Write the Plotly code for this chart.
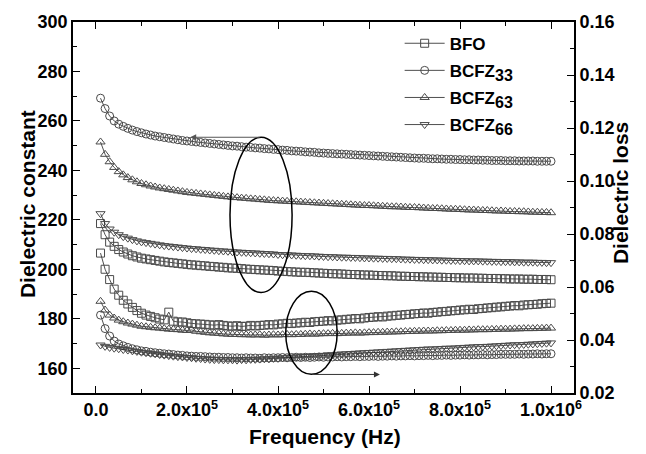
import plotly.graph_objects as go

# Frequency sweep: 10 kHz to 1 MHz in 10 kHz steps
freq_hz = [k * 1e4 for k in range(1, 101)]

# Dielectric constant (left axis)
eps_bfo = [
    218.5, 214.0, 211.0, 209.3, 208.0, 207.0, 206.2, 205.5, 205.0, 204.5,
    204.2, 203.9, 203.6, 203.3, 203.0, 202.8, 202.6, 202.4, 202.2, 202.0,
    201.8, 201.7, 201.5, 201.4, 201.2, 201.1, 200.9, 200.8, 200.6, 200.5,
    200.4, 200.3, 200.1, 200.0, 199.9, 199.8, 199.7, 199.6, 199.5, 199.3,
    199.2, 199.1, 199.0, 198.9, 198.8, 198.8, 198.7, 198.6, 198.5, 198.4,
    198.3, 198.2, 198.2, 198.1, 198.0, 197.9, 197.9, 197.8, 197.7, 197.7,
    197.6, 197.5, 197.5, 197.4, 197.4, 197.3, 197.2, 197.2, 197.1, 197.1,
    197.0, 197.0, 196.9, 196.9, 196.8, 196.8, 196.7, 196.7, 196.6, 196.6,
    196.5, 196.5, 196.5, 196.4, 196.4, 196.3, 196.3, 196.3, 196.2, 196.2,
    196.1, 196.1, 196.1, 196.0, 196.0, 196.0, 195.9, 195.9, 195.9, 195.8,
]
eps_bcfz33 = [
    269.2, 265.0, 262.0, 260.0, 258.7, 257.8, 257.0, 256.3, 255.7, 255.2,
    254.7, 254.3, 253.9, 253.6, 253.3, 253.0, 252.7, 252.4, 252.1, 251.9,
    251.7, 251.5, 251.3, 251.1, 250.9, 250.7, 250.5, 250.3, 250.1, 249.9,
    249.8, 249.6, 249.4, 249.3, 249.1, 249.0, 248.8, 248.7, 248.5, 248.4,
    248.2, 248.1, 247.9, 247.8, 247.7, 247.5, 247.4, 247.3, 247.1, 247.0,
    246.9, 246.8, 246.7, 246.6, 246.5, 246.4, 246.3, 246.2, 246.1, 246.0,
    245.9, 245.8, 245.7, 245.6, 245.5, 245.4, 245.3, 245.2, 245.1, 245.0,
    244.9, 244.9, 244.8, 244.7, 244.7, 244.6, 244.5, 244.5, 244.4, 244.4,
    244.3, 244.3, 244.2, 244.2, 244.1, 244.1, 244.0, 244.0, 244.0, 243.9,
    243.9, 243.9, 243.8, 243.8, 243.8, 243.8, 243.7, 243.7, 243.7, 243.7,
]
eps_bcfz63 = [
    251.5, 246.5, 243.5, 241.2, 239.5, 238.2, 237.1, 236.2, 235.4, 234.7,
    234.2, 233.7, 233.3, 232.9, 232.6, 232.3, 232.0, 231.7, 231.4, 231.1,
    230.9, 230.7, 230.5, 230.3, 230.1, 229.9, 229.7, 229.5, 229.3, 229.1,
    229.0, 228.8, 228.7, 228.5, 228.4, 228.2, 228.1, 227.9, 227.8, 227.7,
    227.6, 227.5, 227.4, 227.3, 227.2, 227.1, 227.0, 226.9, 226.8, 226.7,
    226.6, 226.5, 226.4, 226.3, 226.2, 226.1, 226.0, 225.9, 225.8, 225.8,
    225.7, 225.6, 225.5, 225.4, 225.3, 225.3, 225.2, 225.1, 225.0, 225.0,
    224.9, 224.8, 224.7, 224.6, 224.6, 224.5, 224.4, 224.3, 224.3, 224.2,
    224.1, 224.0, 224.0, 223.9, 223.8, 223.8, 223.7, 223.6, 223.6, 223.5,
    223.4, 223.4, 223.3, 223.3, 223.2, 223.1, 223.1, 223.0, 223.0, 222.9,
]
eps_bcfz66 = [
    222.5, 218.5, 216.3, 215.0, 214.0, 213.2, 212.6, 212.0, 211.5, 211.1,
    210.8, 210.5, 210.2, 209.9, 209.6, 209.4, 209.2, 209.0, 208.8, 208.6,
    208.4, 208.3, 208.1, 208.0, 207.8, 207.7, 207.5, 207.4, 207.3, 207.1,
    207.0, 206.9, 206.8, 206.7, 206.6, 206.5, 206.4, 206.3, 206.2, 206.0,
    205.9, 205.9, 205.8, 205.7, 205.6, 205.5, 205.5, 205.4, 205.3, 205.2,
    205.1, 205.1, 205.0, 204.9, 204.9, 204.8, 204.8, 204.7, 204.6, 204.6,
    204.5, 204.5, 204.4, 204.4, 204.3, 204.3, 204.2, 204.1, 204.1, 204.0,
    204.0, 203.9, 203.9, 203.8, 203.8, 203.7, 203.7, 203.6, 203.6, 203.5,
    203.5, 203.4, 203.4, 203.4, 203.3, 203.3, 203.2, 203.2, 203.1, 203.1,
    203.1, 203.0, 203.0, 202.9, 202.9, 202.9, 202.8, 202.8, 202.7, 202.7,
]

# Dielectric loss (right axis)
loss_bfo = [
    .0728, .0667, .0628, .0592, .0569, .0550, .0536, .0523, .0511, .0501,
    .0494, .0489, .0484, .0479, .0476, .0505, .0471, .0468, .0468, .0465,
    .0462, .0461, .0460, .0459, .0457, .0456, .0458, .0455, .0453, .0452,
    .0454, .0451, .0452, .0455, .0453, .0455, .0456, .0458, .0457, .0460,
    .0461, .0463, .0462, .0464, .0465, .0467, .0466, .0469, .0470, .0471,
    .0473, .0472, .0475, .0476, .0478, .0479, .0481, .0480, .0483, .0485,
    .0486, .0488, .0487, .0490, .0491, .0493, .0494, .0496, .0497, .0499,
    .0500, .0502, .0501, .0504, .0505, .0507, .0508, .0510, .0511, .0513,
    .0514, .0516, .0515, .0518, .0519, .0521, .0522, .0524, .0525, .0527,
    .0528, .0530, .0529, .0532, .0533, .0534, .0535, .0537, .0538, .0539,
]
loss_bcfz33 = [
    .0494, .0443, .0415, .0396, .0385, .0378, .0372, .0367, .0363, .0359,
    .0357, .0354, .0352, .0350, .0348, .0347, .0345, .0343, .0342, .0340,
    .0339, .0338, .0338, .0337, .0336, .0335, .0335, .0334, .0334, .0333,
    .0333, .0332, .0333, .0332, .0332, .0331, .0333, .0332, .0333, .0333,
    .0334, .0333, .0334, .0335, .0334, .0335, .0334, .0335, .0336, .0335,
    .0336, .0336, .0337, .0336, .0337, .0337, .0338, .0337, .0338, .0338,
    .0339, .0338, .0339, .0339, .0340, .0339, .0340, .0340, .0341, .0340,
    .0341, .0341, .0342, .0341, .0342, .0342, .0343, .0342, .0343, .0343,
    .0344, .0343, .0344, .0344, .0345, .0344, .0345, .0345, .0346, .0346,
    .0346, .0346, .0347, .0346, .0347, .0347, .0348, .0347, .0348, .0348,
]
loss_bcfz63 = [
    .0546, .0513, .0494, .0483, .0475, .0469, .0464, .0460, .0456, .0452,
    .0450, .0448, .0446, .0445, .0443, .0441, .0440, .0439, .0437, .0436,
    .0438, .0433, .0431, .0429, .0427, .0426, .0425, .0423, .0422, .0421,
    .0421, .0420, .0420, .0419, .0419, .0420, .0418, .0419, .0420, .0419,
    .0420, .0421, .0420, .0421, .0421, .0422, .0423, .0422, .0423, .0424,
    .0424, .0425, .0424, .0425, .0426, .0426, .0427, .0426, .0427, .0428,
    .0428, .0429, .0429, .0430, .0430, .0431, .0431, .0432, .0432, .0433,
    .0433, .0434, .0434, .0434, .0435, .0435, .0436, .0436, .0437, .0437,
    .0437, .0438, .0438, .0439, .0439, .0439, .0440, .0440, .0441, .0441,
    .0441, .0442, .0442, .0443, .0443, .0443, .0444, .0444, .0445, .0445,
]
loss_bcfz66 = [
    .0381, .0376, .0372, .0369, .0367, .0364, .0362, .0359, .0357, .0354,
    .0352, .0350, .0348, .0345, .0343, .0341, .0339, .0337, .0336, .0334,
    .0333, .0331, .0330, .0328, .0327, .0326, .0326, .0325, .0325, .0325,
    .0324, .0326, .0325, .0327, .0327, .0328, .0329, .0329, .0331, .0331,
    .0333, .0333, .0335, .0336, .0337, .0338, .0339, .0340, .0341, .0342,
    .0344, .0344, .0346, .0347, .0348, .0349, .0350, .0351, .0352, .0353,
    .0354, .0355, .0356, .0357, .0358, .0359, .0360, .0361, .0362, .0363,
    .0364, .0365, .0366, .0366, .0367, .0368, .0369, .0369, .0370, .0371,
    .0372, .0373, .0374, .0375, .0375, .0376, .0377, .0378, .0379, .0380,
    .0381, .0382, .0382, .0383, .0384, .0385, .0386, .0387, .0388, .0389,
]

SUB = '<sub><span style="font-size:16px">{}</span></sub>'
sample_names = ["BFO", "BCFZ" + SUB.format("33"), "BCFZ" + SUB.format("63"),
                "BCFZ" + SUB.format("66")]
sample_symbols = ["square-open", "circle-open", "triangle-up-open", "triangle-down-open"]
eps_series = [eps_bfo, eps_bcfz33, eps_bcfz63, eps_bcfz66]
loss_series = [loss_bfo, loss_bcfz33, loss_bcfz63, loss_bcfz66]

FONT = "Liberation Sans, Arial, sans-serif"
MARKER_COLOR = "#4a4a4a"
LINE_COLOR = "#222222"

fig = go.Figure()

for name, sym, eps in zip(sample_names, sample_symbols, eps_series):
    fig.add_trace(go.Scatter(
        x=freq_hz, y=eps, name=name, mode="lines+markers",
        line=dict(color=LINE_COLOR, width=0.8),
        marker=dict(symbol=sym, size=8, color=MARKER_COLOR, line=dict(width=1)),
        yaxis="y", legendgroup=name,
    ))

for name, sym, loss in zip(sample_names, sample_symbols, loss_series):
    fig.add_trace(go.Scatter(
        x=freq_hz, y=loss, name=name, mode="lines+markers",
        line=dict(color=LINE_COLOR, width=0.8),
        marker=dict(symbol=sym, size=8, color=MARKER_COLOR, line=dict(width=1)),
        yaxis="y2", legendgroup=name, showlegend=False,
    ))

tick_font = dict(family=FONT, size=18, color="black", weight="bold")
title_font = dict(family=FONT, size=21, color="black", weight="bold")

x_ticks = [0, 2e5, 4e5, 6e5, 8e5, 1e6]
x_labels = ["0.0", "2.0x10<sup>5</sup>", "4.0x10<sup>5</sup>", "6.0x10<sup>5</sup>",
            "8.0x10<sup>5</sup>", "1.0x10<sup>6</sup>"]

fig.update_layout(
    width=646, height=454,
    margin=dict(l=73, r=72, t=20, b=61),
    paper_bgcolor="white", plot_bgcolor="white",
    showlegend=True,
    legend=dict(
        x=0.652, y=0.99, xanchor="left", yanchor="top",
        bgcolor="rgba(0,0,0,0)", borderwidth=0,
        font=dict(family=FONT, size=17, color="black", weight="bold"),
        itemwidth=40, tracegroupgap=2,
    ),
    xaxis=dict(
        range=[-5.05e4, 1.0505e6],
        tickmode="array", tickvals=x_ticks, ticktext=x_labels,
        ticks="inside", ticklen=7, tickwidth=1.3, tickcolor="black",
        minor=dict(ticks="inside", ticklen=4, tickwidth=1.2, tickcolor="black",
                   tick0=0, dtick=1e5),
        showline=True, linecolor="black", linewidth=1.6, mirror="ticks",
        showgrid=False, zeroline=False, tickfont=tick_font,
    ),
    yaxis=dict(
        range=[150, 300], tick0=0, dtick=20,
        ticks="inside", ticklen=7, tickwidth=1.3, tickcolor="black",
        minor=dict(ticks="inside", ticklen=4, tickwidth=1.2, tickcolor="black",
                   tick0=0, dtick=10),
        showline=True, linecolor="black", linewidth=1.6,
        showgrid=False, zeroline=False, tickfont=tick_font,
    ),
    yaxis2=dict(
        range=[0.02, 0.16], tick0=0, dtick=0.02, tickformat=".2f",
        overlaying="y", side="right",
        ticks="inside", ticklen=7, tickwidth=1.3, tickcolor="black",
        minor=dict(ticks="inside", ticklen=4, tickwidth=1.2, tickcolor="black",
                   tick0=0, dtick=0.01),
        showline=True, linecolor="black", linewidth=1.6,
        showgrid=False, zeroline=False, tickfont=tick_font,
    ),
)

# Axis titles
fig.add_annotation(text="Dielectric constant", xref="paper", yref="paper",
                   x=-0.092, y=0.509, textangle=-90, showarrow=False,
                   font=title_font, xanchor="center", yanchor="middle")
fig.add_annotation(text="Dielectric loss", xref="paper", yref="paper",
                   x=1.092, y=0.539, textangle=-90, showarrow=False,
                   font=title_font, xanchor="center", yanchor="middle")
fig.add_annotation(text="Frequency (Hz)", xref="paper", yref="paper",
                   x=0.502, y=-0.118, showarrow=False,
                   font=title_font, xanchor="center", yanchor="middle")

# Ellipse around the dielectric-constant curves, arrow pointing to the left axis
fig.add_shape(type="circle", xref="x", yref="y",
              x0=2.945e5, x1=4.31e5, y0=190.6, y1=253.4,
              line=dict(color="black", width=1.5))
fig.add_annotation(x=2.07e5, y=253.4, ax=3.63e5, ay=253.4,
                   xref="x", yref="y", axref="x", ayref="y",
                   text="", showarrow=True, arrowhead=2, arrowsize=1.2,
                   arrowwidth=1, arrowcolor="#555555")

# Ellipse around the loss curves, arrow pointing to the right axis
fig.add_shape(type="circle", xref="x", yref="y2",
              x0=4.17e5, x1=5.30e5, y0=0.0271, y1=0.0584,
              line=dict(color="black", width=1.5))
fig.add_annotation(x=6.24e5, y=0.0270, ax=4.74e5, ay=0.0270,
                   xref="x", yref="y2", axref="x", ayref="y2",
                   text="", showarrow=True, arrowhead=2, arrowsize=1.2,
                   arrowwidth=1, arrowcolor="#333333")

fig.write_html("out.html")
